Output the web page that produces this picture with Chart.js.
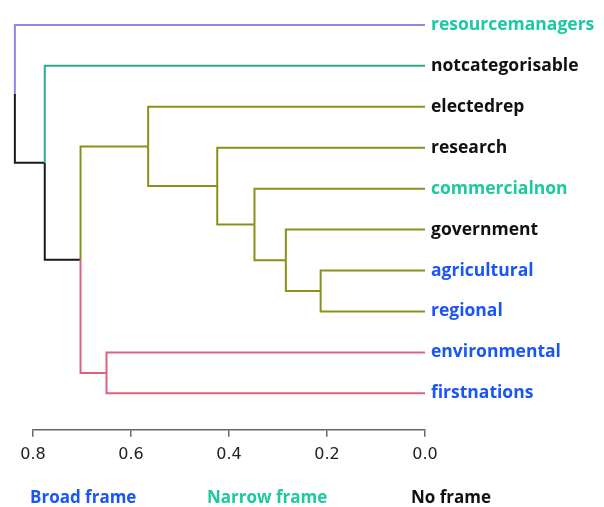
<!DOCTYPE html>
<html>
<head>
<meta charset="utf-8">
<script src="https://cdn.jsdelivr.net/npm/chart.js@4.4.1/dist/chart.umd.min.js"></script>
<style>
  html, body { margin: 0; padding: 0; background: #fff; }
  #wrap { position: relative; width: 604px; height: 507px; }
  #legend { position: absolute; left: 0; top: 485px; width: 604px; height: 22px;
            font-family: "Open Sans", sans-serif; font-weight: 700; font-size: 17px; }
  #legend span { position: absolute; top: 0; white-space: nowrap; }
</style>
</head>
<body>
<div id="wrap">
  <canvas id="c" width="604" height="507"></canvas>
  <div id="legend">
    <span style="left:30px;color:#1a55f5">Broad frame</span>
    <span style="left:207px;color:#1cc9a0">Narrow frame</span>
    <span style="left:411px;color:#111">No frame</span>
  </div>
</div>
<script>
// Leaves, top to bottom, and the frame each one belongs to
const leaves = ['resourcemanagers', 'notcategorisable', 'electedrep', 'research', 'commercialnon',
                'government', 'agricultural', 'regional', 'environmental', 'firstnations'];
const leafFrames = ['narrow', 'none', 'none', 'none', 'narrow', 'none', 'broad', 'broad', 'broad', 'broad'];

// Linkage: merge k joins mergeA[k] and mergeB[k] (ids < 10 are leaves, id 10+k is merge k) at mergeHeight[k]
const mergeA = [6, 5, 4, 3, 2, 8, 14, 1, 0];
const mergeB = [7, 10, 11, 12, 13, 9, 15, 16, 17];
const mergeHeight = [0.213, 0.284, 0.348, 0.424, 0.565, 0.650, 0.703, 0.776, 0.837];

// Colour group of the branch leading up from each leaf and from each merge
const leafGroup = ['C1', 'C2', 'C3', 'C3', 'C3', 'C3', 'C3', 'C3', 'C4', 'C4'];
const mergeGroup = ['C3', 'C3', 'C3', 'C3', 'C3', 'C4', 'C0', 'C0', 'C0'];

const xTicks = [0.8, 0.6, 0.4, 0.2, 0.0];

const groupColors = { C0: '#1a1a1a', C1: '#9484e6', C2: '#2ea88f', C3: '#8b9018', C4: '#e0607e' };
const frameColors = { broad: '#1a55f5', narrow: '#1cc9a0', none: '#111111' };

// Node positions: height (x) and vertical position (y, in leaf units)
const nodeH = leaves.map(() => 0).concat(mergeHeight);
const nodeY = leaves.map((_, i) => i);
mergeA.forEach((a, k) => { nodeY[10 + k] = (nodeY[a] + nodeY[mergeB[k]]) / 2; });
const nodeGroup = leafGroup.concat(mergeGroup);

// Each child contributes one elbow: from the parent's centre, along its height, across to the child
const datasets = [];
mergeA.forEach((a, k) => {
  const p = 10 + k;
  [a, mergeB[k]].forEach(ch => {
    datasets.push({
      data: [
        { x: nodeH[p], y: nodeY[p] },
        { x: nodeH[p], y: nodeY[ch] },
        { x: nodeH[ch], y: nodeY[ch] }
      ],
      showLine: true,
      borderColor: groupColors[nodeGroup[ch]],
      borderWidth: 2,
      pointRadius: 0,
      tension: 0,
      clip: false
    });
  });
});

new Chart(document.getElementById('c'), {
  type: 'scatter',
  data: { datasets },
  options: {
    responsive: false,
    animation: false,
    layout: { padding: { left: 33, top: 0, bottom: 35, right: 0 } },
    plugins: { legend: { display: false }, tooltip: { enabled: false } },
    scales: {
      x: {
        type: 'linear',
        reverse: true,
        min: 0,
        max: 0.8,
        afterBuildTicks: s => { s.ticks = xTicks.map(v => ({ value: v })); },
        ticks: {
          callback: v => Number(v).toFixed(1),
          color: '#222',
          font: { family: 'DejaVu Sans', size: 16 },
          padding: 8,
          maxRotation: 0
        },
        grid: { drawOnChartArea: false, drawTicks: true, tickLength: 7, color: '#666', lineWidth: 1.5 },
        border: { display: true, color: '#666', width: 1.5 }
      },
      y: {
        type: 'linear',
        position: 'right',
        reverse: true,
        min: -0.205,
        max: 9.89,
        afterBuildTicks: s => { s.ticks = leaves.map((_, i) => ({ value: i })); },
        afterFit: s => { s.width = 179; },
        ticks: {
          callback: v => leaves[v],
          color: c => frameColors[leafFrames[c.index]],
          font: { family: 'Open Sans', size: 17.5, weight: '700' },
          padding: 6,
          autoSkip: false
        },
        grid: { display: false, drawTicks: false },
        border: { display: false }
      }
    }
  }
});
</script>
</body>
</html>
